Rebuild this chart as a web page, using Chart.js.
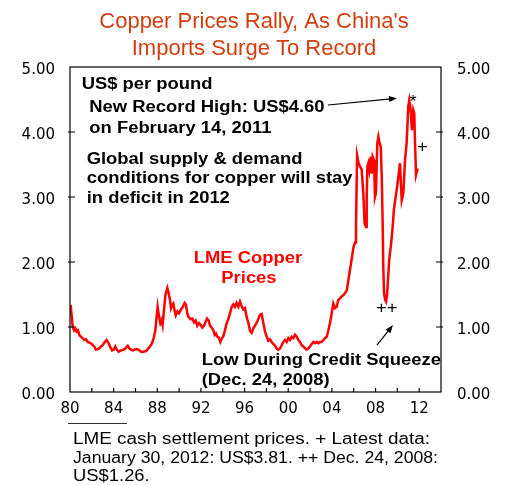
<!DOCTYPE html>
<html>
<head>
<meta charset="utf-8">
<script src="https://cdn.jsdelivr.net/npm/chart.js@4.4.1/dist/chart.umd.min.js"></script>
<style>
  html, body { margin: 0; padding: 0; background: #fff; }
  canvas { display: block; }
</style>
</head>
<body>
<canvas id="chart" width="505" height="485"></canvas>
<script>
// LME copper, US$ per pound (decimal years)
const years = [
  1980.06, 1980.16, 1980.25, 1980.37, 1980.49, 1980.61, 1980.73, 1980.85, 1981.00, 1981.16,
  1981.31, 1981.47, 1981.62, 1981.77, 1981.92, 1982.08, 1982.23, 1982.38, 1982.54, 1982.69,
  1982.84, 1983.00, 1983.15, 1983.36, 1983.51, 1983.67, 1983.85, 1984.00, 1984.15, 1984.30,
  1984.46, 1984.67, 1984.89, 1985.07, 1985.29, 1985.44, 1985.60, 1985.75, 1985.90, 1986.11,
  1986.30, 1986.50, 1986.72, 1986.97, 1987.12, 1987.33, 1987.52, 1987.67, 1987.82, 1987.94,
  1988.03, 1988.16, 1988.28, 1988.40, 1988.49, 1988.64, 1988.75, 1988.92, 1989.04, 1989.16,
  1989.26, 1989.38, 1989.47, 1989.60, 1989.69, 1989.84, 1989.99, 1990.14, 1990.33, 1990.51,
  1990.63, 1990.75, 1990.88, 1991.06, 1991.21, 1991.37, 1991.52, 1991.67, 1991.82, 1991.98,
  1992.13, 1992.28, 1992.43, 1992.56, 1992.71, 1992.83, 1992.99, 1993.13, 1993.26, 1993.38,
  1993.50, 1993.63, 1993.78, 1993.93, 1994.05, 1994.20, 1994.36, 1994.51, 1994.66, 1994.82,
  1994.97, 1995.12, 1995.27, 1995.43, 1995.58, 1995.73, 1995.88, 1996.04, 1996.19, 1996.34,
  1996.50, 1996.65, 1996.80, 1997.02, 1997.20, 1997.41, 1997.57, 1997.72, 1997.87, 1998.03,
  1998.18, 1998.33, 1998.48, 1998.63, 1998.79, 1998.94, 1999.09, 1999.25, 1999.40, 1999.55,
  1999.70, 1999.86, 2000.01, 2000.16, 2000.32, 2000.47, 2000.62, 2000.78, 2000.93, 2001.08,
  2001.23, 2001.38, 2001.54, 2001.69, 2001.84, 2002.00, 2002.15, 2002.30, 2002.45, 2002.61,
  2002.76, 2002.91, 2003.07, 2003.22, 2003.37, 2003.53, 2003.68, 2003.83, 2003.98, 2004.13,
  2004.29, 2004.44, 2004.59, 2004.74, 2004.90, 2005.05, 2005.20, 2005.36, 2005.51, 2005.66,
  2005.82, 2005.97, 2006.12, 2006.21, 2006.31, 2006.45, 2006.58, 2006.73, 2006.88, 2007.00,
  2007.13, 2007.19, 2007.25, 2007.34, 2007.43, 2007.56, 2007.65, 2007.74, 2007.86, 2007.95,
  2008.04, 2008.16, 2008.26, 2008.35, 2008.48, 2008.57, 2008.66, 2008.71, 2008.78, 2008.87,
  2008.96, 2009.06, 2009.25, 2009.40, 2009.55, 2009.68, 2009.80, 2009.94, 2010.09, 2010.24,
  2010.40, 2010.55, 2010.70, 2010.85, 2011.00, 2011.09, 2011.22, 2011.34, 2011.46, 2011.55,
  2011.62, 2011.71, 2011.83, 2011.95
];
const prices = [
  1.34, 1.16, 1.00, 0.95, 0.98, 0.93, 0.95, 0.88, 0.85, 0.83,
  0.80, 0.81, 0.77, 0.76, 0.75, 0.72, 0.70, 0.65, 0.66, 0.67,
  0.70, 0.72, 0.76, 0.80, 0.76, 0.70, 0.64, 0.65, 0.70, 0.65,
  0.62, 0.64, 0.65, 0.67, 0.71, 0.67, 0.65, 0.64, 0.65, 0.66,
  0.65, 0.62, 0.62, 0.63, 0.66, 0.70, 0.75, 0.83, 0.95, 1.16,
  1.31, 1.16, 1.06, 1.11, 1.03, 1.31, 1.50, 1.60, 1.52, 1.42,
  1.29, 1.34, 1.36, 1.24, 1.18, 1.24, 1.21, 1.26, 1.31, 1.37,
  1.34, 1.21, 1.15, 1.12, 1.13, 1.07, 1.10, 1.02, 1.06, 1.03,
  0.99, 1.02, 1.08, 1.13, 1.10, 1.02, 0.99, 0.95, 0.88, 0.90,
  0.85, 0.84, 0.77, 0.83, 0.86, 0.95, 1.06, 1.12, 1.21, 1.31,
  1.35, 1.31, 1.37, 1.31, 1.39, 1.32, 1.27, 1.29, 1.15, 1.07,
  0.94, 0.91, 0.98, 1.04, 1.10, 1.19, 1.20, 1.06, 0.93, 0.85,
  0.79, 0.81, 0.77, 0.74, 0.71, 0.67, 0.65, 0.67, 0.72, 0.77,
  0.80, 0.77, 0.83, 0.80, 0.85, 0.83, 0.88, 0.85, 0.80, 0.77,
  0.72, 0.70, 0.67, 0.65, 0.67, 0.70, 0.74, 0.77, 0.75, 0.77,
  0.75, 0.77, 0.77, 0.80, 0.83, 0.85, 0.95, 1.06, 1.21, 1.36,
  1.29, 1.31, 1.42, 1.44, 1.47, 1.49, 1.52, 1.56, 1.72, 1.88,
  2.05, 2.22, 2.30, 2.55, 3.64, 3.52, 3.47, 3.42, 3.06, 2.59,
  2.54, 2.95, 3.47, 3.52, 3.42, 3.62, 3.36, 3.62, 3.57, 3.00,
  3.06, 3.83, 3.93, 3.85, 3.77, 3.31, 2.54, 1.93, 1.52, 1.42,
  1.39, 1.50, 2.03, 2.24, 2.50, 2.80, 2.95, 3.11, 3.31, 3.52,
  2.95, 3.06, 3.57, 3.83, 4.39, 4.49, 4.34, 4.03, 4.34, 4.29,
  3.83, 3.34, 3.42, 3.42
];

const titleLines = ["Copper Prices Rally, As China's", "Imports Surge To Record"];
const footnoteLines = [
  "LME cash settlement prices. + Latest data:",
  "January 30, 2012: US$3.81. ++ Dec. 24, 2008:",
  "US$1.26."
];
const footnoteWidths = [357, 365, null];

// text notes placed in data units (year, price)
const notes = [
  { text: "US$ per pound", t: 1981.07, v: 4.73 },
  { text: "New Record High: US$4.60", t: 1981.77, v: 4.37 },
  { text: "on February 14, 2011", t: 1981.77, v: 4.06 },
  { text: "Global supply & demand", t: 1981.53, v: 3.57 },
  { text: "conditions for copper will stay", t: 1981.53, v: 3.28 },
  { text: "in deficit in 2012", t: 1981.53, v: 2.97 },
  { text: "LME Copper", t: 1996.31, v: 2.05, color: "#ff0000", align: "center" },
  { text: "Prices", t: 1996.4, v: 1.74, color: "#ff0000", align: "center" },
  { text: "Low During Credit Squeeze", t: 1992.07, v: 0.48 },
  { text: "(Dec. 24, 2008)", t: 1992.07, v: 0.18 },
  { text: "*", t: 2011.45, v: 4.46, bold: false, align: "center" },
  { text: "+", t: 2012.3, v: 3.76, bold: false, align: "center" },
  { text: "++", t: 2009.02, v: 1.28, bold: false, align: "center" }
];
const arrows = [
  { from: [2003.64, 4.415], to: [2009.97, 4.52] },
  { from: [2008.13, 0.72], to: [2009.6, 1.03] }
];

const SX = 1.15; // the reference text is a bit wide

function wideText(ctx, text, x, y, font, color, align, width) {
  ctx.save();
  ctx.font = font;
  ctx.fillStyle = color;
  ctx.textAlign = align || "left";
  ctx.textBaseline = "middle";
  const sx = width ? width / ctx.measureText(text).width : SX;
  ctx.translate(x, y);
  ctx.scale(sx, 1);
  ctx.fillText(text, 0, 0);
  ctx.restore();
}

function arrow(ctx, x1, y1, x2, y2) {
  const a = Math.atan2(y2 - y1, x2 - x1);
  ctx.beginPath();
  ctx.moveTo(x1, y1);
  ctx.lineTo(x2 - 6 * Math.cos(a), y2 - 6 * Math.sin(a));
  ctx.stroke();
  ctx.beginPath();
  ctx.moveTo(x2, y2);
  ctx.lineTo(x2 - 8 * Math.cos(a) + 3 * Math.sin(a), y2 - 8 * Math.sin(a) - 3 * Math.cos(a));
  ctx.lineTo(x2 - 8 * Math.cos(a) - 3 * Math.sin(a), y2 - 8 * Math.sin(a) + 3 * Math.cos(a));
  ctx.closePath();
  ctx.fill();
}

const overlay = {
  id: "overlay",
  afterDraw(chart) {
    const { ctx, chartArea: a, scales } = chart;
    const px = t => scales.x.getPixelForValue(t);
    const py = v => scales.y.getPixelForValue(v);
    ctx.save();

    // plot frame and inward ticks
    ctx.strokeStyle = "#000";
    ctx.lineWidth = 1.2;
    ctx.strokeRect(a.left, a.top, a.right - a.left, a.bottom - a.top);
    ctx.beginPath();
    for (let v = 1; v < 5; v++) {
      ctx.moveTo(a.left - 2, py(v)); ctx.lineTo(a.left + 5, py(v));
      ctx.moveTo(a.right + 2, py(v)); ctx.lineTo(a.right - 5, py(v));
    }
    for (let t = 1982; t < 2014; t += 2) {
      ctx.moveTo(px(t), a.bottom); ctx.lineTo(px(t), a.bottom - 4);
    }
    ctx.stroke();

    // title
    ctx.fillStyle = "#cf3f0f";
    ctx.font = '22px "Liberation Sans", Arial, sans-serif';
    ctx.textAlign = "center";
    ctx.textBaseline = "alphabetic";
    ctx.fillText(titleLines[0], 254, 28);
    ctx.fillText(titleLines[1], 254, 55);

    // notes and arrows
    notes.forEach(n => {
      const weight = n.bold === false ? "" : "bold ";
      wideText(ctx, n.text, px(n.t), py(n.v), weight + '16px "Liberation Sans", Arial, sans-serif',
        n.color || "#000", n.align);
    });
    ctx.strokeStyle = "#000";
    ctx.fillStyle = "#000";
    ctx.lineWidth = 1.2;
    arrows.forEach(r => arrow(ctx, px(r.from[0]), py(r.from[1]), px(r.to[0]), py(r.to[1])));

    // small rule and footnote under the axis
    ctx.strokeStyle = "#333";
    ctx.lineWidth = 1;
    ctx.beginPath();
    ctx.moveTo(68, 423.5); ctx.lineTo(127, 423.5);
    ctx.stroke();
    footnoteLines.forEach((line, i) => {
      wideText(ctx, line, 73, 440 + i * 18.5, '16px "Liberation Sans", Arial, sans-serif', "#000", "left",
        footnoteWidths[i]);
    });
    ctx.restore();
  }
};

const tickFont = { family: '"DejaVu Sans", sans-serif', size: 15 };
const yTickLabel = v => v.toFixed(2);

new Chart(document.getElementById("chart"), {
  type: "line",
  data: {
    datasets: [{
      data: years.map((t, i) => ({ x: t, y: prices[i] })),
      borderColor: "#ff0000",
      borderWidth: 2.5,
      pointRadius: 0,
      tension: 0
    }]
  },
  options: {
    responsive: false,
    animation: false,
    layout: { padding: { left: 10, right: 0, top: 67, bottom: 63 } },
    plugins: { legend: { display: false }, tooltip: { enabled: false } },
    scales: {
      x: {
        type: "linear",
        min: 1980,
        max: 2014,
        grid: { display: false, drawTicks: false },
        border: { display: false },
        ticks: {
          stepSize: 2,
          autoSkip: false,
          maxRotation: 0,
          padding: 8,
          color: "#000",
          font: tickFont,
          callback: v => (v % 4 === 0 ? String(v % 100).padStart(2, "0") : "")
        },
        afterFit: s => { s.height = 30; }
      },
      y: {
        position: "left",
        min: 0,
        max: 5,
        grid: { display: false, drawTicks: false },
        border: { display: false },
        ticks: { stepSize: 1, padding: 15, labelOffset: 3, color: "#000", font: tickFont, callback: yTickLabel },
        afterFit: s => { s.width = 60; }
      },
      y2: {
        position: "right",
        min: 0,
        max: 5,
        grid: { display: false, drawTicks: false },
        border: { display: false },
        ticks: { stepSize: 1, padding: 16, labelOffset: 3, color: "#000", font: tickFont, callback: yTickLabel },
        afterFit: s => { s.width = 64; }
      }
    }
  },
  plugins: [overlay]
});
</script>
</body>
</html>
